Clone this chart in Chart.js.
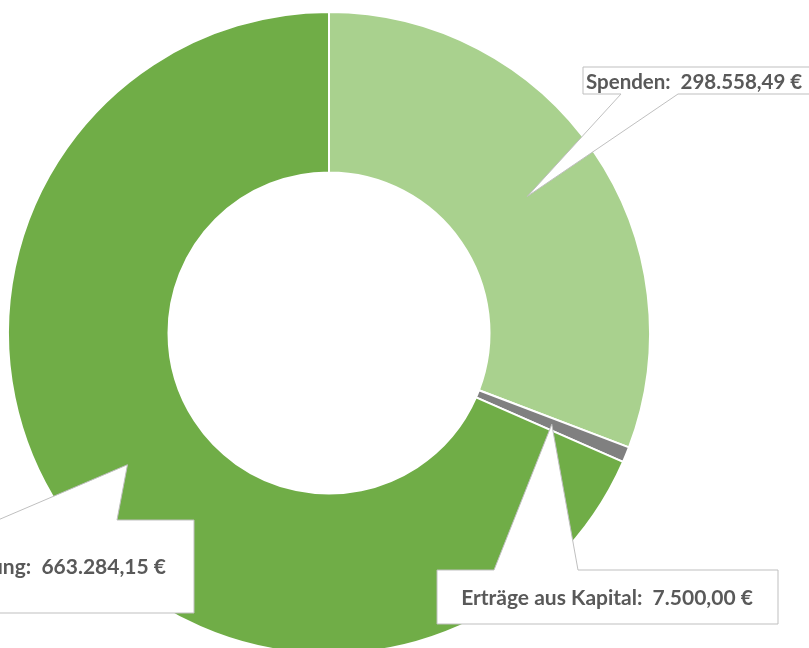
<!DOCTYPE html>
<html>
<head>
<meta charset="utf-8">
<script src="https://cdn.jsdelivr.net/npm/chart.js@4.4.0/dist/chart.umd.min.js"></script>
<style>
  html, body { margin: 0; padding: 0; background: #fff; overflow: hidden; }
  /* the ring runs a little past the bottom of the window, so the canvas is taller */
  #wrap { position: relative; width: 809px; height: 666px; }
</style>
</head>
<body>
<div id="wrap"><canvas id="einnahmen"></canvas></div>
<script>
// data
const labels = ['Spenden', 'Erträge aus Kapital', 'Förderung'];
const amounts = [298558.49, 7500.00, 663284.15];
const colors = ['#A9D18E', '#808080', '#70AD47'];

// 298558.49 -> "298.558,49 €"
function euro(v) {
  const parts = v.toFixed(2).split('.');
  return parts[0].replace(/\B(?=(\d{3})+(?!\d))/g, '.') + ',' + parts[1] + ' €';
}

// where each callout box sits, the tip comes from the arc itself
const callouts = [
  { x: 583, y: 67, w: 240, h: 27, side: 'bottom', b1: 621, b2: 678, tx: 586, ty: 82, align: 'left', size: 20.5 },
  { x: 437, y: 570, w: 341, h: 54, side: 'top', b1: 494, b2: 578, tx: 607, ty: 598, align: 'center', size: 21 },
  { x: -140, y: 520, w: 334, h: 93, side: 'top', b1: -2, b2: 117, tx: 166, ty: 567, align: 'right', size: 21 }
];

const calloutPlugin = {
  id: 'callouts',
  afterDraw(chart) {
    const ctx = chart.ctx;
    const arcs = chart.getDatasetMeta(0).data;
    ctx.save();
    callouts.forEach((c, i) => {
      const tip = arcs[i].tooltipPosition();
      const l = c.x, r = c.x + c.w, t = c.y, b = c.y + c.h;
      ctx.beginPath();
      if (c.side === 'top') {
        ctx.moveTo(l, t);
        ctx.lineTo(c.b1, t);
        ctx.lineTo(tip.x, tip.y);
        ctx.lineTo(c.b2, t);
        ctx.lineTo(r, t);
        ctx.lineTo(r, b);
        ctx.lineTo(l, b);
      } else {
        ctx.moveTo(l, t);
        ctx.lineTo(r, t);
        ctx.lineTo(r, b);
        ctx.lineTo(c.b2, b);
        ctx.lineTo(tip.x, tip.y);
        ctx.lineTo(c.b1, b);
        ctx.lineTo(l, b);
      }
      ctx.closePath();
      ctx.fillStyle = '#ffffff';
      ctx.fill();
      ctx.lineWidth = 1;
      ctx.strokeStyle = '#BFBFBF';
      ctx.stroke();

      ctx.fillStyle = '#595959';
      ctx.font = 'bold ' + c.size + 'px Lato';
      ctx.textAlign = c.align;
      ctx.textBaseline = 'middle';
      ctx.fillText(labels[i] + ':  ' + euro(amounts[i]), c.tx, c.ty);
    });
    ctx.restore();
  }
};

new Chart(document.getElementById('einnahmen'), {
  type: 'doughnut',
  data: {
    labels: labels,
    datasets: [{
      data: amounts,
      backgroundColor: colors,
      borderColor: '#ffffff',
      borderWidth: 2
    }]
  },
  options: {
    responsive: true,
    maintainAspectRatio: false,
    animation: false,
    cutout: '50%',
    layout: { padding: { left: 7, right: 158, top: 11, bottom: 11 } },
    plugins: {
      legend: { display: false },
      tooltip: { enabled: false }
    }
  },
  plugins: [calloutPlugin]
});
</script>
</body>
</html>
